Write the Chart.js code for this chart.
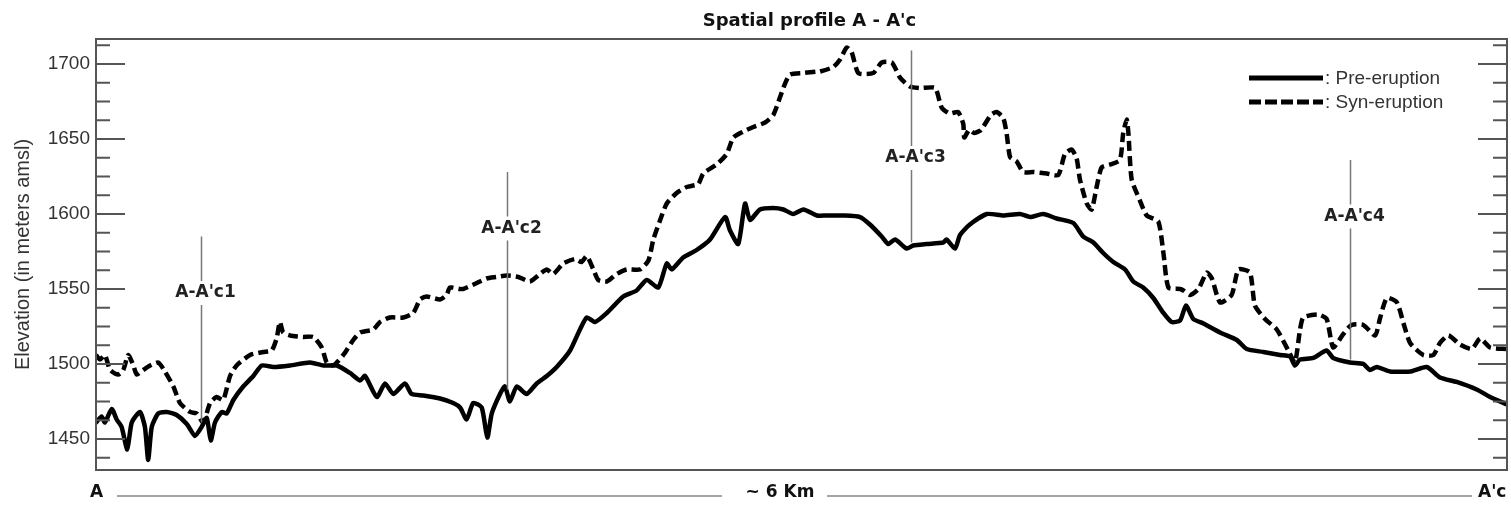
<!DOCTYPE html>
<html><head><meta charset="utf-8">
<script src="https://cdn.jsdelivr.net/npm/chart.js@4.4.0/dist/chart.umd.min.js"></script>
<style>html,body{margin:0;padding:0;background:#fff;}#wrap{width:1511px;height:508px;position:relative;}</style>
</head><body><div id="wrap"><canvas id="c"></canvas></div>
<script>
// distance along profile (m) and elevation (m amsl)
const preDist = [0,24,38,67,88,109,133,152,187,208,222,237,265,301,343,386,421,449,471,488,506,535,556,584,626,669,705,754,825,910,967,1024,1080,1123,1144,1194,1229,1264,1314,1342,1392,1463,1519,1548,1576,1604,1640,1664,1683,1718,1739,1760,1789,1831,1874,1917,1959,2016,2058,2087,2122,2172,2242,2299,2342,2391,2427,2448,2497,2554,2611,2675,2696,2731,2760,2781,2823,2880,2923,2965,3008,3065,3107,3178,3249,3291,3341,3369,3398,3447,3475,3532,3603,3617,3653,3674,3716,3788,3858,3929,3972,4028,4085,4156,4198,4241,4283,4326,4376,4411,4453,4496,4539,4574,4610,4635,4666,4709,4780,4851,4893,4964,5035,5077,5098,5120,5176,5233,5261,5332,5389,5417,5446,5502,5588,5659,5715,5786,5871,5928,6000];
const preElev = [1461,1465,1461,1470,1463,1458,1443,1461,1468,1458,1436,1458,1467,1468,1466,1460,1452,1458,1464,1449,1461,1468,1467,1476,1485,1492,1499,1498,1499,1501,1499,1499,1494,1489,1492,1478,1487,1480,1487,1480,1479,1477,1474,1471,1463,1474,1471,1451,1467,1480,1485,1475,1485,1480,1487,1492,1498,1509,1523,1531,1528,1534,1545,1549,1556,1551,1567,1563,1571,1576,1583,1598,1589,1580,1607,1596,1603,1604,1603,1600,1603,1599,1599,1599,1598,1593,1585,1580,1583,1577,1579,1580,1581,1583,1577,1586,1593,1600,1599,1600,1598,1600,1597,1594,1585,1581,1574,1568,1563,1555,1551,1544,1534,1528,1529,1539,1530,1527,1521,1516,1510,1508,1506,1505,1499,1503,1504,1509,1504,1501,1500,1496,1498,1495,1495,1498,1491,1488,1483,1478,1473];
const synDist = [0,17,38,60,95,116,137,159,173,201,230,265,293,329,357,400,428,456,485,513,541,570,598,655,711,747,768,782,796,825,881,924,960,981,1009,1052,1094,1123,1179,1208,1250,1307,1349,1378,1406,1463,1491,1505,1548,1562,1619,1661,1704,1746,1796,1845,1888,1917,1944,1987,2037,2065,2087,2115,2136,2172,2214,2257,2313,2349,2370,2399,2427,2469,2512,2561,2582,2639,2682,2710,2753,2795,2845,2880,2909,2930,2951,3008,3065,3078,3135,3164,3192,3213,3242,3305,3341,3384,3419,3461,3504,3568,3596,3631,3666,3688,3692,3713,3734,3763,3805,3830,3858,3872,3887,3915,3943,3986,4043,4092,4120,4149,4170,4184,4213,4234,4255,4276,4312,4354,4368,4383,4390,4404,4439,4468,4517,4539,4560,4610,4624,4652,4688,4723,4745,4780,4829,4858,4907,4928,4971,5021,5070,5098,5120,5134,5197,5233,5261,5304,5339,5389,5439,5461,5489,5532,5560,5588,5644,5687,5715,5751,5800,5850,5886,5928,6000];
const synElev = [1506,1503,1506,1496,1493,1496,1506,1499,1493,1496,1499,1501,1495,1485,1474,1468,1467,1461,1474,1478,1476,1492,1499,1506,1508,1509,1517,1528,1521,1519,1518,1518,1511,1501,1499,1506,1516,1521,1523,1528,1531,1531,1534,1543,1545,1543,1546,1551,1550,1550,1554,1557,1558,1559,1558,1555,1560,1563,1560,1567,1570,1568,1572,1563,1556,1555,1560,1563,1563,1569,1583,1596,1607,1614,1618,1620,1627,1633,1640,1651,1655,1658,1661,1666,1678,1687,1693,1694,1695,1695,1698,1703,1711,1708,1694,1694,1701,1701,1691,1685,1684,1684,1671,1667,1668,1660,1651,1656,1654,1656,1666,1668,1664,1654,1638,1635,1628,1628,1627,1626,1640,1643,1637,1623,1607,1603,1618,1631,1633,1636,1654,1663,1654,1623,1609,1599,1595,1574,1551,1550,1549,1546,1550,1561,1557,1541,1546,1563,1561,1539,1530,1523,1509,1501,1523,1531,1533,1530,1511,1520,1526,1526,1519,1531,1544,1541,1527,1514,1506,1506,1514,1519,1513,1510,1517,1511,1510];

const seriesNames = ['Pre-eruption', 'Syn-eruption'];
const yTickValues = [1437.5,1450,1462.5,1475,1487.5,1500,1512.5,1525,1537.5,1550,1562.5,1575,1587.5,1600,1612.5,1625,1637.5,1650,1662.5,1675,1687.5,1700,1712.5];
const yMajorLabels = [1450, 1500, 1550, 1600, 1650, 1700];
const sectionNames = ["A-A'c1", "A-A'c2", "A-A'c3", "A-A'c4"];
const sectionDist = [447, 1748, 3466, 5332];
const sectionTop = [1585, 1628, 1709, 1636];
const sectionBottom = [1461, 1483, 1581, 1503];
const sectionLabelElev = [1548, 1591, 1638, 1599];
const titleText = "Spatial profile A - A'c";
const yTitleText = 'Elevation (in meters amsl)';
const bottomLabels = ['A', '~ 6 Km', "A'c"];

const toPts = (xs, ys) => xs.map((v, i) => ({x: v, y: ys[i]}));
const BOLD = 'bold 17px "DejaVu Sans", sans-serif';
const REG = '19px "Liberation Sans", Arial, sans-serif';
const isMajor = v => yMajorLabels.some(m => Math.abs(m - v) < 1e-6);

const overlay = {
  id: 'overlay',
  afterDatasetsDraw(chart) {
    const {ctx, chartArea: ca, scales: {x, y}} = chart;
    ctx.save();
    // frame
    ctx.strokeStyle = '#555'; ctx.lineWidth = 2;
    ctx.strokeRect(ca.left, ca.top, ca.right - ca.left, ca.bottom - ca.top);
    // inward ticks both sides
    y.ticks.forEach(t => {
      const v = t.value;
      const py = y.getPixelForValue(v);
      const L = isMajor(v) ? 29 : 14;
      ctx.beginPath();
      ctx.moveTo(ca.left, py); ctx.lineTo(ca.left + L, py);
      ctx.moveTo(ca.right, py); ctx.lineTo(ca.right - L, py);
      ctx.stroke();
    });
    // section markers
    ctx.strokeStyle = '#777'; ctx.lineWidth = 1.5;
    ctx.font = BOLD; ctx.fillStyle = '#222';
    ctx.textAlign = 'center'; ctx.textBaseline = 'middle';
    sectionNames.forEach((name, i) => {
      const px = Math.round(x.getPixelForValue(sectionDist[i])) + 0.5;
      const t = y.getPixelForValue(sectionTop[i]);
      const b = y.getPixelForValue(sectionBottom[i]);
      const ly = y.getPixelForValue(sectionLabelElev[i]);
      ctx.beginPath();
      ctx.moveTo(px, t); ctx.lineTo(px, ly - 11);
      ctx.moveTo(px, ly + 13); ctx.lineTo(px, b);
      ctx.stroke();
      ctx.fillText(name, px + 4, ly + 1);
    });
    // legend
    ctx.textAlign = 'left'; ctx.font = REG; ctx.fillStyle = '#333';
    [78, 102].forEach((ly, i) => {
      ctx.beginPath();
      ctx.strokeStyle = '#000'; ctx.lineWidth = 5;
      ctx.setLineDash(i === 1 ? [12, 4] : []);
      ctx.moveTo(1249, ly); ctx.lineTo(1323, ly); ctx.stroke();
      ctx.setLineDash([]);
      ctx.fillText(': ' + seriesNames[i], 1325, ly + 1);
    });
    ctx.restore();
  },
  afterDraw(chart) {
    const {ctx, chartArea: ca} = chart;
    ctx.save();
    ctx.fillStyle = '#111'; ctx.textAlign = 'center'; ctx.textBaseline = 'middle';
    ctx.font = 'bold 18px "DejaVu Sans", sans-serif';
    ctx.fillText(titleText, (ca.left + ca.right) / 2 + 8, 21);
    // bottom scale bar
    ctx.font = BOLD;
    ctx.fillText(bottomLabels[0], 96.5, 493);
    ctx.fillText(bottomLabels[1], 780, 493);
    ctx.textAlign = 'left';
    ctx.fillText(bottomLabels[2], 1478, 493);
    ctx.strokeStyle = '#888'; ctx.lineWidth = 1.5;
    ctx.beginPath();
    ctx.moveTo(117, 496); ctx.lineTo(722, 496);
    ctx.moveTo(827, 496); ctx.lineTo(1472, 496);
    ctx.stroke();
    ctx.restore();
  }
};

new Chart(document.getElementById('c'), {
  type: 'line',
  data: {
    datasets: [
      {label: seriesNames[0], data: toPts(preDist, preElev), borderColor: '#000', borderWidth: 4.5,
       pointRadius: 0, tension: 0.2, borderJoinStyle: 'round', borderCapStyle: 'round', fill: false},
      {label: seriesNames[1], data: toPts(synDist, synElev), borderColor: '#000', borderWidth: 4.5,
       borderDash: [10, 5], pointRadius: 0, tension: 0.2, borderJoinStyle: 'round', borderCapStyle: 'butt', fill: false}
    ]
  },
  options: {
    responsive: true, maintainAspectRatio: false, animation: false,
    layout: {padding: {left: 0, right: 4, top: 39, bottom: 38}},
    plugins: {legend: {display: false}, tooltip: {enabled: false}, title: {display: false}},
    scales: {
      x: {type: 'linear', min: 0, max: 6000, display: false},
      y: {
        type: 'linear', min: 1429.3, max: 1716.7,
        afterBuildTicks: s => { s.ticks = yTickValues.map(v => ({value: v})); },
        afterFit: s => { s.width = 96; },
        grid: {display: false, drawTicks: false}, border: {display: false},
        ticks: {autoSkip: false, padding: 6, color: '#333',
          font: {family: '"Liberation Sans", Arial, sans-serif', size: 19},
          callback: v => isMajor(v) ? String(Math.round(v)) : ''},
        title: {display: true, text: yTitleText, color: '#333',
          font: {family: '"Liberation Sans", Arial, sans-serif', size: 20}, padding: {top: 11, bottom: 0}}
      }
    }
  },
  plugins: [overlay]
});
</script></body></html>
